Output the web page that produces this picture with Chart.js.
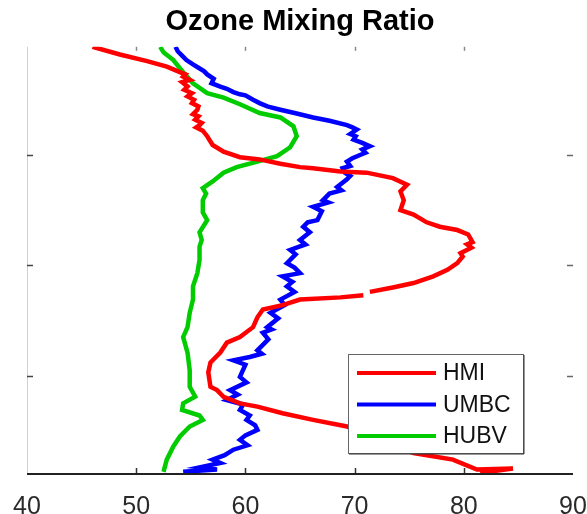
<!DOCTYPE html>
<html>
<head>
<meta charset="utf-8">
<title>Ozone Mixing Ratio</title>
<script src="https://cdn.jsdelivr.net/npm/chart.js@4.4.1/dist/chart.umd.min.js"></script>
<style>
  html, body { margin: 0; padding: 0; background: #fff; }
  canvas { display: block; }
</style>
</head>
<body>
<canvas id="ozoneChart" width="587" height="514"></canvas>
<script>
// Ozone profiles: mixing ratio (ppbv) against altitude (km)
const seriesNames = ['HMI', 'UMBC', 'HUBV'];
const seriesColors = ['#ff0000', '#0000ff', '#00cc00'];
const xTicks = [40, 50, 60, 70, 80, 90];
const yTicks = [1, 2, 3];

const hmiOzone = [46.0, 48.5, 51.0, 52.8, 54.0, 54.5, 54.3, 54.9, 54.2, 54.7,
    54.4, 55.1, 54.7, 55.3, 55.1, 55.7, 55.6, 55.2, 55.7, 55.4,
    56.0, 55.8, 55.5, 56.1, 56.5, 57.0, 58.0, 59.5, 61.3, 63.2,
    65.0, 66.2, 68.7, 71.1, 73.5, 74.8, 74.2, 74.5, 74.2, 75.4,
    76.6, 77.8, 79.4, 80.4, 80.8, 80.3, 80.7, 79.7, 79.9, 79.4,
    78.5, 77.2, 75.4, 73.5, 71.4, null, 70.8, 68.7, 65.0, 63.4,
    61.6, 61.1, 60.7, 59.5, 58.3, 57.7, 56.8, 56.6, 56.8, 57.4,
    58.0, 59.5, 61.1, 63.4, 66.2, 69.3, 72.3, 75.4, 79.0, 81.2,
    84.5, 81.5];
const hmiAlt = [3.98, 3.91, 3.85, 3.80, 3.75, 3.73, 3.71, 3.68, 3.66, 3.62,
    3.59, 3.56, 3.53, 3.50, 3.47, 3.44, 3.41, 3.37, 3.35, 3.32,
    3.29, 3.27, 3.25, 3.22, 3.17, 3.09, 3.03, 2.98, 2.96, 2.92,
    2.89, 2.88, 2.85, 2.84, 2.79, 2.73, 2.67, 2.59, 2.50, 2.46,
    2.39, 2.35, 2.32, 2.28, 2.21, 2.19, 2.16, 2.11, 2.08, 2.02,
    1.96, 1.90, 1.84, 1.80, 1.76, null, 1.73, 1.71, 1.69, 1.64,
    1.60, 1.53, 1.44, 1.35, 1.30, 1.21, 1.12, 1.03, 0.90, 0.87,
    0.81, 0.75, 0.72, 0.66, 0.60, 0.54, 0.42, 0.30, 0.24, 0.15,
    0.16, 0.12];

const umbcOzone = [53.6, 53.8, 54.2, 54.6, 55.2, 55.7, 56.2, 56.5, 57.1, 56.9,
    57.7, 58.3, 58.9, 59.5, 60.0, 60.7, 61.3, 62.0, 63.2, 64.5,
    66.2, 67.7, 69.3, 69.8, 70.2, 69.6, 70.1, 69.9, 70.7, 71.4,
    70.7, 71.0, 70.5, 69.8, 69.3, 69.6, 68.9, 69.1, 69.6, 69.3,
    68.4, 68.8, 67.7, 67.1, 67.6, 66.2, 67.0, 66.6, 65.7, 65.3,
    65.9, 65.0, 65.5, 64.1, 64.6, 63.8, 64.5, 65.0, 63.4, 64.3,
    63.8, 64.5, 63.2, 63.6, 62.3, 63.0, 62.0, 62.4, 61.6, 62.1,
    61.1, 61.5, 60.4, 58.9, 60.0, 59.5, 60.1, 58.6, 59.3, 58.3,
    59.8, 59.5, 60.4, 60.1, 60.9, 61.1, 60.0, 59.5, 60.2, 58.9,
    58.1, 57.0, 57.7, 55.8, 57.4, 54.3];
const umbcAlt = [3.98, 3.94, 3.90, 3.86, 3.82, 3.79, 3.76, 3.73, 3.69, 3.65,
    3.62, 3.60, 3.57, 3.55, 3.54, 3.50, 3.47, 3.44, 3.41, 3.38,
    3.34, 3.31, 3.27, 3.25, 3.23, 3.19, 3.17, 3.14, 3.11, 3.08,
    3.05, 3.02, 3.00, 2.97, 2.94, 2.90, 2.88, 2.84, 2.81, 2.78,
    2.71, 2.68, 2.65, 2.59, 2.57, 2.53, 2.49, 2.41, 2.39, 2.35,
    2.30, 2.23, 2.19, 2.14, 2.10, 2.02, 1.98, 1.93, 1.90, 1.85,
    1.81, 1.76, 1.69, 1.64, 1.57, 1.52, 1.44, 1.42, 1.39, 1.33,
    1.23, 1.20, 1.17, 1.14, 1.10, 0.99, 0.94, 0.87, 0.83, 0.78,
    0.74, 0.69, 0.64, 0.60, 0.55, 0.51, 0.46, 0.42, 0.37, 0.33,
    0.28, 0.24, 0.21, 0.17, 0.15, 0.13];

const hubvOzone = [52.2, 52.5, 53.4, 54.3, 55.2, 56.5, 58.0, 59.5, 61.3, 63.2,
    64.4, 64.7, 64.1, 62.9, 61.1, 59.2, 58.0, 57.0, 56.1, 56.4,
    56.1, 56.1, 56.5, 55.8, 56.0, 55.8, 55.8, 55.6, 55.2, 55.2,
    54.9, 54.7, 54.3, 54.7, 54.9, 54.9, 55.4, 54.3, 54.2, 55.8,
    56.1, 54.9, 54.0, 53.4, 52.8, 52.5];
const hubvAlt = [3.98, 3.93, 3.86, 3.75, 3.65, 3.56, 3.52, 3.46, 3.38, 3.34,
    3.26, 3.17, 3.07, 2.99, 2.94, 2.89, 2.84, 2.76, 2.70, 2.65,
    2.59, 2.48, 2.41, 2.30, 2.23, 2.17, 2.05, 1.93, 1.81, 1.69,
    1.57, 1.44, 1.35, 1.21, 1.05, 0.90, 0.81, 0.75, 0.69, 0.64,
    0.60, 0.54, 0.45, 0.36, 0.24, 0.13];

function toPoints(xs, ys) {
    return xs.map((x, i) => ({ x: x, y: ys[i] }));
}

const FONT = "'Liberation Sans', Arial, Helvetica, sans-serif";

// Box ticks pointing inwards, heavy bottom axis, plus an opaque legend box
const frameAndLegend = {
    id: 'frameAndLegend',
    afterDraw(chart) {
        const ctx = chart.ctx;
        const area = chart.chartArea;
        const xs = chart.scales.x;
        const ys = chart.scales.y;
        const tick = 6;

        ctx.save();
        // left axis line (faint)
        ctx.strokeStyle = '#d0d0d0';
        ctx.lineWidth = 1;
        ctx.beginPath();
        ctx.moveTo(area.left + 0.5, area.top);
        ctx.lineTo(area.left + 0.5, area.bottom);
        ctx.stroke();

        // x ticks, bottom and top
        ctx.lineWidth = 1.5;
        xTicks.forEach(v => {
            if (v === xs.min || v === xs.max) return;
            const px = Math.round(xs.getPixelForValue(v)) + 0.5;
            ctx.strokeStyle = '#333';
            ctx.beginPath();
            ctx.moveTo(px, area.bottom);
            ctx.lineTo(px, area.bottom - tick);
            ctx.stroke();
            ctx.strokeStyle = '#888';
            ctx.beginPath();
            ctx.moveTo(px, area.top);
            ctx.lineTo(px, area.top + tick - 2);
            ctx.stroke();
        });

        // y ticks, left and right
        yTicks.forEach(v => {
            const py = Math.round(ys.getPixelForValue(v)) + 0.5;
            ctx.strokeStyle = '#444';
            ctx.beginPath();
            ctx.moveTo(area.left, py);
            ctx.lineTo(area.left + tick, py);
            ctx.stroke();
            ctx.strokeStyle = '#666';
            ctx.beginPath();
            ctx.moveTo(area.right, py);
            ctx.lineTo(area.right - tick, py);
            ctx.stroke();
        });

        // bottom axis
        ctx.strokeStyle = '#222';
        ctx.lineWidth = 2;
        ctx.beginPath();
        ctx.moveTo(area.left, area.bottom);
        ctx.lineTo(area.right, area.bottom);
        ctx.stroke();

        // legend
        const boxW = 175, boxH = 99;
        const bx = area.right - 50 - boxW;
        const by = area.bottom - 21 - boxH;
        ctx.fillStyle = '#fff';
        ctx.fillRect(bx, by, boxW, boxH);
        ctx.strokeStyle = '#666';
        ctx.lineWidth = 1;
        ctx.strokeRect(bx + 0.5, by + 0.5, boxW, boxH);
        ctx.strokeStyle = '#333';
        ctx.beginPath();
        ctx.moveTo(bx + boxW + 1, by + 1);
        ctx.lineTo(bx + boxW + 1, by + boxH + 1);
        ctx.lineTo(bx + 1, by + boxH + 1);
        ctx.stroke();

        ctx.font = '23px ' + FONT;
        ctx.textBaseline = 'middle';
        ctx.textAlign = 'left';
        chart.data.datasets.forEach((ds, i) => {
            const rowY = by + 19 + i * 31.5;
            ctx.strokeStyle = ds.borderColor;
            ctx.lineWidth = 4;
            ctx.beginPath();
            ctx.moveTo(bx + 9, rowY);
            ctx.lineTo(bx + 88, rowY);
            ctx.stroke();
            ctx.fillStyle = '#111';
            ctx.fillText(ds.label, bx + 95, rowY + 1);
        });
        ctx.restore();
    }
};

const ctx = document.getElementById('ozoneChart').getContext('2d');
new Chart(ctx, {
    type: 'scatter',
    data: {
        datasets: [
            { label: seriesNames[0], data: toPoints(hmiOzone, hmiAlt), borderColor: seriesColors[0] },
            { label: seriesNames[1], data: toPoints(umbcOzone, umbcAlt), borderColor: seriesColors[1] },
            { label: seriesNames[2], data: toPoints(hubvOzone, hubvAlt), borderColor: seriesColors[2] }
        ].map(ds => Object.assign(ds, {
            showLine: true,
            borderWidth: 4.5,
            pointRadius: 0,
            pointHoverRadius: 0,
            tension: 0,
            spanGaps: false,
            backgroundColor: ds.borderColor
        }))
    },
    options: {
        responsive: false,
        animation: false,
        devicePixelRatio: 1,
        layout: { padding: { left: 27, right: 14, top: 0, bottom: 0 } },
        plugins: {
            legend: { display: false },
            tooltip: { enabled: false },
            title: {
                display: true,
                text: 'Ozone Mixing Ratio',
                color: '#000',
                font: { family: FONT, size: 29, weight: 'bold' },
                padding: { top: 5, bottom: 7 }
            }
        },
        scales: {
            x: {
                type: 'linear',
                min: 40,
                max: 90,
                afterBuildTicks: axis => { axis.ticks = xTicks.map(v => ({ value: v })); },
                ticks: {
                    color: '#2a2a2a',
                    font: { family: FONT, size: 25 },
                    padding: 18,
                    maxRotation: 0
                },
                grid: { display: false, drawTicks: false },
                border: { display: false },
                afterFit: axis => {
                    axis.height = 40;
                    axis.paddingLeft = 0;
                    axis.paddingRight = 0;
                }
            },
            y: {
                type: 'linear',
                min: 0.11,
                max: 3.98,
                afterBuildTicks: axis => { axis.ticks = yTicks.map(v => ({ value: v })); },
                ticks: { display: false },
                grid: { display: false, drawTicks: false },
                border: { display: false },
                afterFit: axis => { axis.width = 0; }
            }
        }
    },
    plugins: [frameAndLegend]
});
</script>
</body>
</html>
